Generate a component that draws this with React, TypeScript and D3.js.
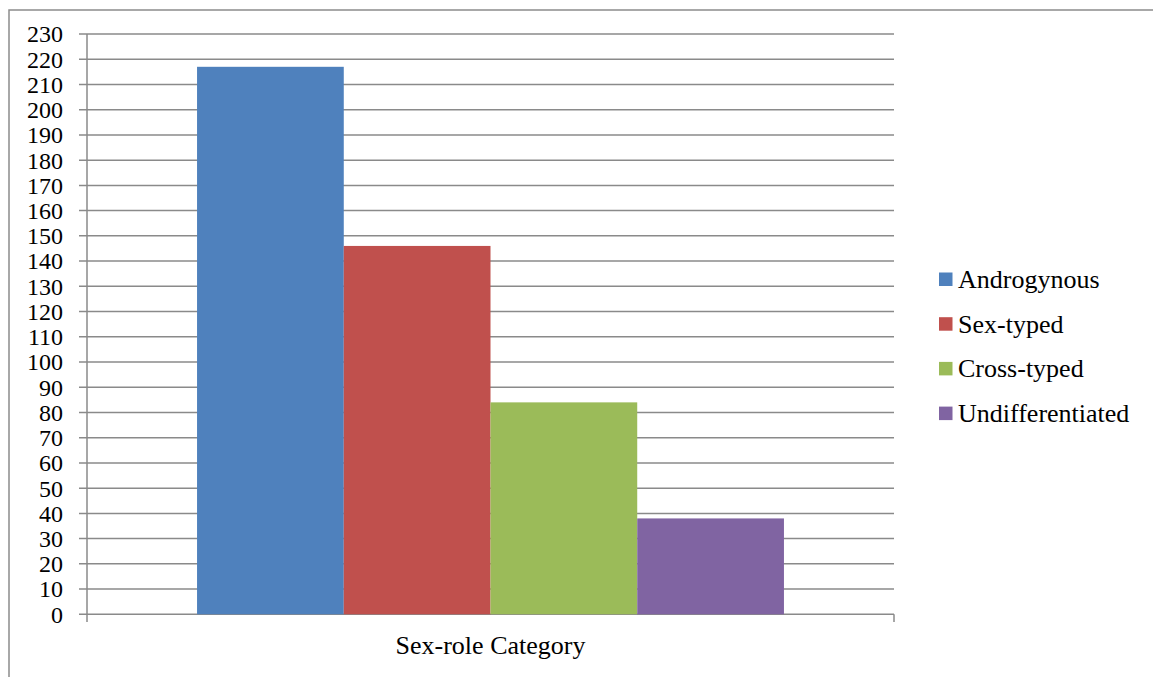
import React from "react";
import * as d3 from "d3";

const categories = ["Sex-role Category"];
const seriesNames = ["Androgynous", "Sex-typed", "Cross-typed", "Undifferentiated"];
const seriesValues = [217, 146, 84, 38];
const seriesColors = ["#4F81BD", "#C0504D", "#9BBB59", "#8064A2"];
const yTicks = d3.range(0, 231, 10);

const W = 1153;
const H = 677;
const FONT = '"Times New Roman", "Liberation Serif", Tinos, "DejaVu Serif", serif';

export default function App() {
  const left = 87;
  const right = 894;
  const top = 34;
  const bottom = 614.3;

  const y = d3.scaleLinear().domain([0, 230]).range([bottom, top]);
  const x0 = d3
    .scaleBand<string>()
    .domain(categories)
    .range([left, right])
    .paddingInner(0)
    .paddingOuter(0.1875);
  const x1 = d3
    .scaleBand<string>()
    .domain(seriesNames)
    .range([0, x0.bandwidth()])
    .padding(0);

  const gridColor = "#8a8a8a";
  const tickStyle: React.CSSProperties = { fontFamily: FONT, fontSize: 24 };
  const textStyle: React.CSSProperties = { fontFamily: FONT, fontSize: 26 };

  return (
    <svg
      width={W}
      height={H}
      style={{ position: "absolute", left: 0, top: 0, background: "#fff", fontFamily: FONT }}
    >
      {/* chart area frame */}
      <rect x={9} y={10} width={W + 20} height={H + 20} fill="#fff" stroke="#8c8c8c" strokeWidth={1.5} />

      {/* horizontal gridlines with left tick marks */}
      {yTicks.map((t) => (
        <line
          key={"g" + t}
          x1={79}
          x2={right}
          y1={y(t)}
          y2={y(t)}
          stroke={gridColor}
          strokeWidth={1.5}
        />
      ))}

      {/* y axis line */}
      <line x1={left} x2={left} y1={top} y2={622} stroke={gridColor} strokeWidth={1.5} />
      {/* right end tick of category axis */}
      <line x1={right} x2={right} y1={bottom} y2={622} stroke={gridColor} strokeWidth={1.5} />

      {/* bars */}
      {categories.map((c) => (
        <g key={c} transform={`translate(${x0(c)},0)`}>
          {seriesNames.map((s, i) => (
            <rect
              key={s}
              x={x1(s)}
              y={y(seriesValues[i])}
              width={x1.bandwidth()}
              height={y(0) - y(seriesValues[i])}
              fill={seriesColors[i]}
            />
          ))}
        </g>
      ))}

      {/* y tick labels */}
      {yTicks.map((t) => (
        <text key={"t" + t} x={63} y={y(t)} dy="0.35em" textAnchor="end" style={tickStyle} fill="#000">
          {t}
        </text>
      ))}

      {/* category label */}
      {categories.map((c) => (
        <text
          key={"c" + c}
          x={(x0(c) as number) + x0.bandwidth() / 2}
          y={654}
          textAnchor="middle"
          style={textStyle}
          fill="#000"
        >
          {c}
        </text>
      ))}

      {/* legend */}
      {seriesNames.map((s, i) => {
        const cy = 279 + i * 44.7;
        return (
          <g key={"l" + s}>
            <rect x={939} y={cy - 6.5} width={13.5} height={13.5} fill={seriesColors[i]} />
            <text x={958} y={cy} dy="0.34em" style={textStyle} fill="#000">
              {s}
            </text>
          </g>
        );
      })}
    </svg>
  );
}
